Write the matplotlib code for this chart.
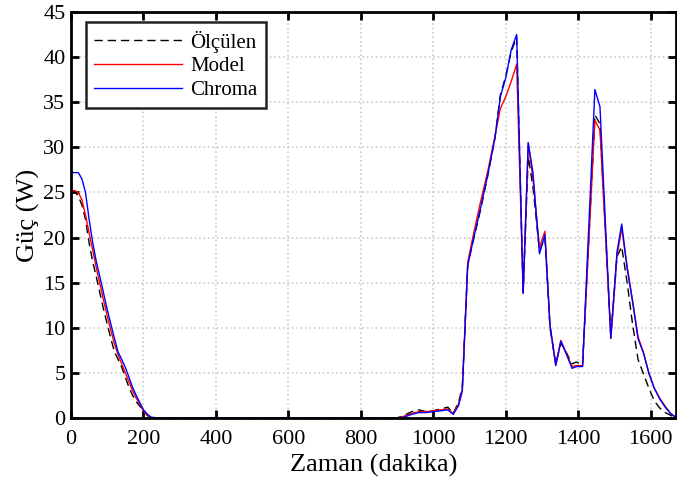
"""
Güç karşılaştırması: ölçülen, model ve Chroma.
"""

import matplotlib
matplotlib.use('Agg')
import matplotlib.pyplot as plt

# Estilo
plt.rcParams['font.family'] = ['Liberation Serif', 'DejaVu Serif']
plt.rcParams['mathtext.fontset'] = 'stix'

# Zaman (dakika)
zaman = [0, 10, 20, 30, 40, 50, 60, 70, 80, 90, 100, 110, 120, 130, 140, 150,
         160, 170, 180, 190, 200, 210, 220, 240, 900, 920, 940, 960, 980, 1000,
         1020, 1040, 1055, 1070, 1080, 1095, 1110, 1130, 1150, 1170, 1185, 1200,
         1215, 1230, 1248, 1262, 1275, 1293, 1308, 1322, 1338, 1352, 1368, 1383,
         1395, 1412, 1430, 1446, 1460, 1475, 1490, 1507, 1520, 1535, 1550, 1565,
         1580, 1595, 1610, 1625, 1640, 1655, 1670]

olculen = [25.1, 25.1, 24.6, 23.6, 22.0, 19.4, 17.3, 15.6, 13.8, 12.0, 10.4, 8.8,
           7.3, 6.5, 5.6, 4.5, 3.4, 2.5, 1.8, 1.3, 0.9, 0.3, 0.05, 0.0, 0.0, 0.3,
           0.7, 0.9, 0.7, 0.8, 1.0, 1.2, 0.5, 1.8, 3.4, 17.0, 19.6, 23.0, 26.8,
           31.0, 35.8, 37.9, 40.6, 42.2, 13.9, 29.0, 25.6, 18.5, 20.0, 10.0, 6.0,
           8.3, 7.2, 6.0, 6.2, 5.9, 20.5, 33.6, 32.6, 20.8, 9.0, 17.9, 19.0, 15.0,
           10.4, 6.5, 4.9, 3.3, 1.9, 1.1, 0.6, 0.3, 0.0]

model = [25.2, 25.2, 25.0, 24.2, 22.5, 20.5, 18.6, 16.6, 14.8, 13.0, 11.3, 9.7,
         8.2, 7.0, 6.0, 5.0, 4.0, 3.0, 2.2, 1.5, 0.8, 0.3, 0.05, 0.0, 0.0, 0.2,
         0.5, 0.7, 0.7, 0.8, 0.9, 1.0, 0.5, 1.6, 3.1, 17.3, 20.2, 23.9, 27.3,
         31.2, 34.3, 35.6, 37.3, 39.2, 14.0, 30.5, 26.5, 18.9, 20.7, 10.3, 5.9,
         8.6, 7.1, 5.7, 5.8, 5.8, 20.2, 33.0, 31.9, 20.4, 8.9, 18.0, 21.0, 16.8,
         13.0, 9.0, 7.3, 4.9, 3.3, 2.2, 1.3, 0.5, 0.05]

chroma = [27.2, 27.2, 27.2, 26.5, 25.0, 22.0, 19.4, 17.3, 15.6, 13.8, 12.0, 10.4,
          8.8, 7.3, 6.5, 5.6, 4.5, 3.4, 2.5, 1.7, 0.9, 0.45, 0.1, 0.0, 0.0, 0.1,
          0.4, 0.6, 0.6, 0.7, 0.8, 0.9, 0.4, 1.4, 3.0, 16.9, 19.7, 23.2, 26.9,
          31.0, 35.6, 37.7, 40.8, 42.5, 13.8, 30.5, 27.2, 18.2, 20.3, 10.3, 5.8,
          8.5, 7.0, 5.5, 5.7, 5.7, 22.0, 36.4, 34.5, 21.6, 8.8, 18.4, 21.5, 16.6,
          12.9, 8.8, 7.2, 5.0, 3.3, 2.1, 1.2, 0.5, 0.05]

x_ticks = [0, 200, 400, 600, 800, 1000, 1200, 1400, 1600]
y_ticks = [0, 5, 10, 15, 20, 25, 30, 35, 40, 45]

fig = plt.figure(figsize=(6.77, 4.83), dpi=100)
ax = fig.add_axes([0.1049, 0.1346, 0.8937, 0.8406])

ax.plot(zaman, olculen, color='black', linewidth=1.0, linestyle=(0, (6, 3.5)),
        label='Ölçülen')
ax.plot(zaman, model, color='#ff0000', linewidth=1.0, label='Model')
ax.plot(zaman, chroma, color='#0000ff', linewidth=1.0, label='Chroma')

ax.set_xlim(0, 1670)
ax.set_ylim(0, 45)
ax.set_xticks(x_ticks)
ax.set_yticks(y_ticks)

ax.set_xlabel('Zaman (dakika)', fontsize=19, labelpad=4)
ax.set_ylabel('Güç (W)', fontsize=19, labelpad=2)

# Grade pontilhada
ax.grid(True, linestyle=':', linewidth=1.2, color='#cccccc')
ax.set_axisbelow(True)

ax.tick_params(direction='in', top=True, right=True, length=6, width=2,
               labelsize=16)
ax.tick_params(axis='x', pad=8.5)
ax.tick_params(axis='y', pad=4)
for spine in ax.spines.values():
    spine.set_linewidth(2)

leg = ax.legend(loc='upper left', bbox_to_anchor=(0.025, 0.975),
                borderaxespad=0, fontsize=15, handlelength=4.2,
                handletextpad=0.4, labelspacing=0.2, borderpad=0.4,
                fancybox=False, framealpha=1, edgecolor='#222222')
leg.get_frame().set_linewidth(1.8)

fig.savefig('out.png', dpi=100)
plt.close(fig)
